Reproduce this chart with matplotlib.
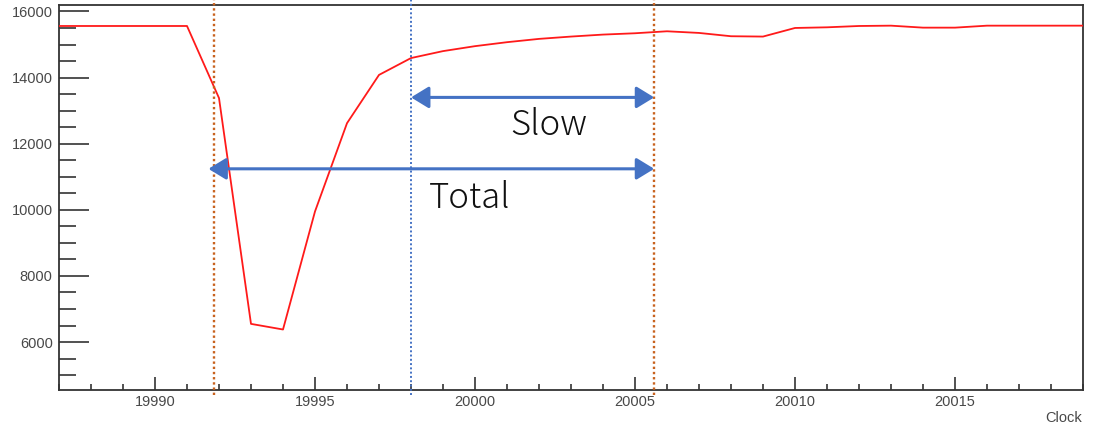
#!/usr/bin/env python3
"""
Clock scan: red response curve with Slow / Total recovery annotations.
Saves out.png
"""
import matplotlib
matplotlib.use('Agg')
import matplotlib.pyplot as plt
from matplotlib.ticker import MultipleLocator

# curve
clock = [19987, 19991, 19992, 19993, 19994, 19995, 19996, 19997, 19998, 19999,
         20000, 20001, 20002, 20003, 20004, 20005, 20006, 20007, 20008, 20009,
         20010, 20011, 20012, 20013, 20014, 20015, 20016, 20017, 20018, 20019]
value = [15560, 15560, 13380, 6550, 6380, 9950, 12620, 14080, 14590, 14800,
         14950, 15070, 15170, 15240, 15300, 15340, 15400, 15350, 15250, 15240,
         15500, 15520, 15560, 15570, 15510, 15510, 15570, 15570, 15570, 15570]

# marker lines (clock positions)
start_mark = 19991.85
slow_mark = 19998.0
end_mark = 20005.6

# arrows: (x_from, x_to, y)
slow_arrow = (19998.0, 20005.6, 13400)
total_arrow = (19991.67, 20005.6, 11240)
# labels: (x_left, y_baseline, text)
slow_label = (20001.1, 12270, 'Slow')
total_label = (19998.55, 10060, 'Total')

XLIM = (19987, 20019)
YLIM = (4550, 16210)

TICK_FONT = ['Liberation Sans Narrow', 'Liberation Sans', 'DejaVu Sans']
ANN_FONT = ['Noto Sans CJK JP', 'DejaVu Sans']
BLUE = '#4472C4'
ORANGE = '#C8621E'


def main():
    fig = plt.figure(figsize=(10.94, 4.26), dpi=100)
    ax = fig.add_axes([59 / 1094, 36 / 426, 1024 / 1094, 385.5 / 426])

    ax.plot(clock, value, color='#FF1A1A', lw=1.3, zorder=3)
    ax.set_xlim(*XLIM)
    ax.set_ylim(*YLIM)

    # ROOT-like ticks: inward, major + minor
    ax.xaxis.set_major_locator(MultipleLocator(5))
    ax.xaxis.set_minor_locator(MultipleLocator(1))
    ax.yaxis.set_major_locator(MultipleLocator(2000))
    ax.yaxis.set_minor_locator(MultipleLocator(500))
    ax.tick_params(axis='x', which='major', direction='in', length=9.4,
                   width=1.1, color='#222222', pad=3.5)
    ax.tick_params(axis='x', which='minor', direction='in', length=4.3,
                   width=1.1, color='#222222')
    ax.tick_params(axis='y', which='major', direction='in', length=21.6,
                   width=1.1, color='#222222', pad=4.5)
    ax.tick_params(axis='y', which='minor', direction='in', length=12.2,
                   width=1.1, color='#222222')
    for lab in ax.get_xticklabels() + ax.get_yticklabels():
        lab.set_family(TICK_FONT)
        lab.set_fontsize(10.5)
        lab.set_color('#484848')
    for sp in ax.spines.values():
        sp.set_color('#333333')
        sp.set_linewidth(1.3)

    fig.text(1082 / 1094, 1 - 418 / 426, 'Clock', ha='right', va='center',
             family=TICK_FONT, fontsize=10.5, color='#484848')

    # dotted marker lines, running a bit past the frame
    trans = ax.get_xaxis_transform()
    for xm, col, lw in [(start_mark, ORANGE, 1.7), (end_mark, ORANGE, 1.7),
                        (slow_mark, BLUE, 1.4)]:
        ax.plot([xm, xm], [-0.013, 1.012], transform=trans, color=col, lw=lw,
                ls=(0, (1, 1.2)), clip_on=False, zorder=4)

    # arrows
    for x0, x1, y in [slow_arrow, total_arrow]:
        ax.annotate('', xy=(x1, y), xytext=(x0, y),
                    arrowprops=dict(arrowstyle='<|-|>,head_length=0.9,head_width=0.55',
                                    mutation_scale=12, lw=2.2, color=BLUE,
                                    shrinkA=0, shrinkB=0), zorder=5)

    for x, y, txt in [slow_label, total_label]:
        ax.text(x, y, txt, ha='left', va='baseline', family=ANN_FONT,
                fontsize=25, fontweight='light', color='#111111', zorder=5)

    fig.savefig('out.png', dpi=100)
    plt.close(fig)


if __name__ == '__main__':
    main()
